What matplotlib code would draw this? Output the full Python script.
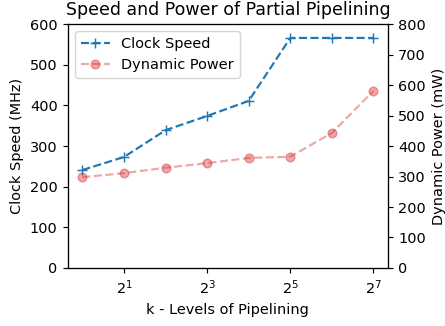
import matplotlib.pyplot as plt

k_levels = [1, 2, 4, 8, 16, 32, 64, 128]
clock_speed = [241, 273, 339, 374, 411, 566, 566, 566]
dynamic_power = [298, 311, 329, 344, 361, 365, 443, 581]
x_ticks = [2, 8, 32, 128]
x_tick_labels = ['$2^{1}$', '$2^{3}$', '$2^{5}$', '$2^{7}$']

dpi = 104.5
fig, ax1 = plt.subplots(figsize=(446 / dpi, 326 / dpi), dpi=dpi)

l1, = ax1.plot(k_levels, clock_speed, '--+', color='tab:blue', markersize=7, label='Clock Speed')
ax1.set_xscale('log', base=2)
ax1.set_xticks(x_ticks)
ax1.set_xticklabels(x_tick_labels)
ax1.minorticks_off()
ax1.set_ylim(0, 600)
ax1.set_xlabel('k - Levels of Pipelining')
ax1.set_ylabel('Clock Speed (MHz)')

ax2 = ax1.twinx()
l2, = ax2.plot(k_levels, dynamic_power, '--o', color='tab:red', alpha=0.4, label='Dynamic Power')
ax2.set_ylim(0, 800)
ax2.set_ylabel('Dynamic Power (mW)')

ax1.legend(handles=[l1, l2], loc='upper left')
plt.title('Speed and Power of Partial Pipelining')
fig.subplots_adjust(left=0.152, right=0.870, top=0.926, bottom=0.178)
plt.savefig('out.png')
